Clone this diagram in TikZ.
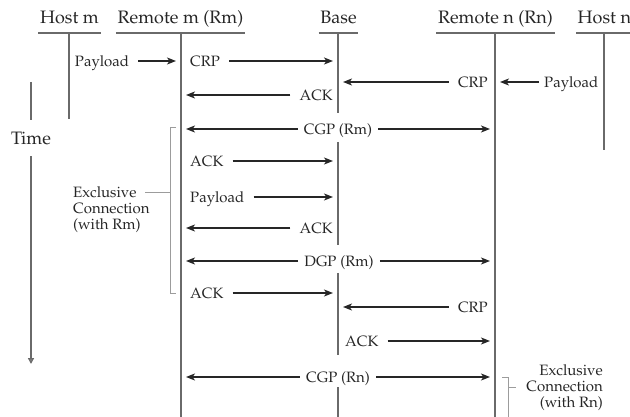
\documentclass[tikz,border=0pt]{standalone}
\usepackage[T1]{fontenc}
\renewcommand{\rmdefault}{ppl}
\usetikzlibrary{arrows.meta}
\definecolor{ink}{HTML}{262626}
\definecolor{life}{HTML}{6A6A6A}
\definecolor{brk}{HTML}{9C9C9C}
\begin{document}
\begin{tikzpicture}[x=1pt,y=-1pt,
  every node/.style={text=ink, font=\fontsize{15}{16}\selectfont, inner sep=0pt},
  hdr/.style={font=\fontsize{18}{20}\selectfont, inner xsep=1.5pt},
  lbl/.style={text height=10.5pt, text depth=0pt},
  msg/.style={draw=ink, line width=1.4pt, -{Stealth[length=9pt,width=7pt,inset=2.5pt]}, shorten <=9pt, shorten >=5pt},
  lifeline/.style={draw=life, line width=2pt},
  uline/.style={draw=life, line width=1.6pt},
  bracketline/.style={draw=brk, line width=0.8pt},
  timeline/.style={draw=life, line width=2pt}]
\useasboundingbox (0,0) rectangle (630,417);

% headers
\node[hdr, anchor=base] (hm) at (69.5,24) {Host m};
\node[hdr, anchor=base] (rmh) at (180.5,24) {Remote m (Rm)};
\node[hdr, anchor=base] (bh) at (338.5,24) {Base};
\node[hdr, anchor=base] (rnh) at (495.5,24) {Remote n (Rn)};
\node[hdr, anchor=base west] (hnh) at (576,24) {Host n};
\foreach \n in {hm,rmh,bh,rnh,hnh}{
  \draw[uline] (\n.west |- 0,33) -- (\n.east |- 0,33);
}

% lifelines
\draw[lifeline] (69,33) -- (69,119);
\draw[lifeline] (181,33) -- (181,417);
\draw[lifeline] (338,33) -- (338,113) (338,142) -- (338,245) (338,273) -- (338,355) (338,387) -- (338,417);
\draw[lifeline] (495,33) -- (495,417);
\draw[lifeline] (604,33) -- (604,150);

% lifeline anchor points
\coordinate (rm1) at (181,61);
\coordinate (b1) at (338,61);
\coordinate (b2) at (338,82);
\coordinate (rn2) at (495,82);
\coordinate (rm3) at (181,95);
\coordinate (rm4) at (181,129);
\coordinate (rn4) at (495,129);
\coordinate (b5) at (338,161);
\coordinate (b6) at (338,197);
\coordinate (rm7) at (181,228);
\coordinate (rm8) at (181,261);
\coordinate (rn8) at (495,261);
\coordinate (b9) at (338,293);
\coordinate (b10) at (338,307);
\coordinate (rn11) at (495,341);
\coordinate (rm12) at (181,377);
\coordinate (rn12) at (495,377);

% messages
\node[lbl] (pl1) at (102,61) {Payload};
\draw[msg] (pl1.east) -- (rm1);
\node[lbl, anchor=west] (crp1) at (190,61) {CRP};
\draw[msg] (crp1.east) -- (b1);

\node[lbl, anchor=east] (crp2) at (488,82) {CRP};
\draw[msg] (crp2.west) -- (b2);
\node[lbl, anchor=west] (pl2) at (544,82) {Payload};
\draw[msg, shorten <=5pt] (pl2.west) -- (rn2);

\node[lbl, anchor=east] (ack3) at (333,95) {ACK};
\draw[msg] (ack3.west) -- (rm3);

\node[lbl] (cgp1) at (338,129) {CGP (Rm)};
\draw[msg, shorten <=6pt] (cgp1.west) -- (rm4);
\draw[msg, shorten <=6pt] (cgp1.east) -- (rn4);

\node[lbl, anchor=west] (ack5) at (190,161) {ACK};
\draw[msg] (ack5.east) -- (b5);

\node[lbl, anchor=west] (pl6) at (190,197) {Payload};
\draw[msg] (pl6.east) -- (b6);

\node[lbl, anchor=east] (ack7) at (333,228) {ACK};
\draw[msg] (ack7.west) -- (rm7);

\node[lbl] (dgp) at (339,261) {DGP (Rm)};
\draw[msg, shorten <=6pt] (dgp.west) -- (rm8);
\draw[msg, shorten <=6pt] (dgp.east) -- (rn8);

\node[lbl, anchor=west] (ack9) at (190,293) {ACK};
\draw[msg] (ack9.east) -- (b9);

\node[lbl, anchor=east] (crp10) at (488,307) {CRP};
\draw[msg] (crp10.west) -- (b10);

\node[lbl, anchor=west] (ack11) at (345,341) {ACK};
\draw[msg] (ack11.east) -- (rn11);

\node[lbl] (cgp2) at (338,377) {CGP (Rn)};
\draw[msg, shorten <=6pt] (cgp2.west) -- (rm12);
\draw[msg, shorten <=6pt] (cgp2.east) -- (rn12);

% time axis
\node[hdr, text height=12.4pt, text depth=0pt, inner xsep=0pt] (time) at (31,138) {Time};
\coordinate (t0) at (31,82);
\coordinate (t1) at (31,364);
\draw[timeline, shorten >=12pt] (t0) -- (time.north);
\draw[timeline, shorten <=12pt, -{Triangle[open,length=6pt,width=6pt]}] (time.south) -- (t1);

% exclusive connection (with Rm)
\node[align=left, anchor=north west] (exm) at (73,186) {Exclusive\\Connection\\(with Rm)};
\coordinate (bm1) at (176,127);
\coordinate (bm2) at (170,127);
\coordinate (bm3) at (170,293);
\coordinate (bm4) at (176,293);
\coordinate (bmt) at (170,192);
\coordinate (bmx) at (145,192);
\draw[bracketline] (bm1) -- (bm2) -- (bm3) -- (bm4);
\draw[bracketline] (bmx) -- (bmt);

% exclusive connection (with Rn)
\node[align=right, anchor=north east] (exn) at (603,364) {Exclusive\\Connection\\(with Rn)};
\coordinate (bn1) at (502,377);
\coordinate (bn2) at (508,377);
\coordinate (bn3) at (508,417);
\coordinate (bnt) at (508,387);
\coordinate (bnx) at (516,387);
\draw[bracketline] (bn1) -- (bn2) -- (bn3);
\draw[bracketline] (bnt) -- (bnx);
\end{tikzpicture}
\end{document}
